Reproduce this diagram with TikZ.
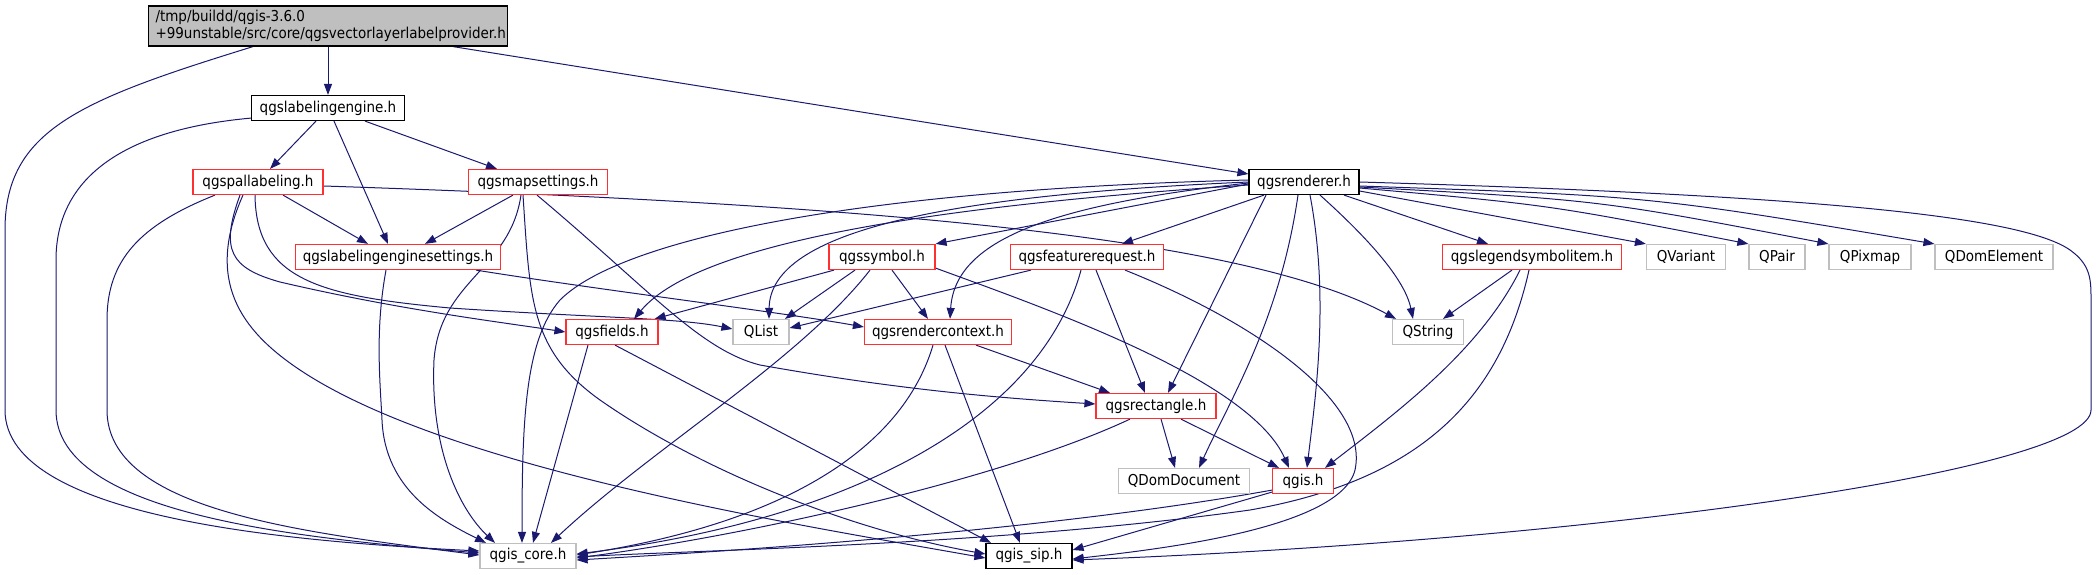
\documentclass[tikz,border=0pt]{standalone}
\usepackage{fontspec}
\setmainfont{DejaVu Sans Condensed}
\usepackage{xcolor}
\usetikzlibrary{arrows.meta,backgrounds}
\definecolor{edgeblue}{HTML}{191970}
\definecolor{extgray}{HTML}{BFBFBF}
\definecolor{truncred}{HTML}{FF3030}

\begin{document}
\begin{tikzpicture}[
  x=1pt, y=-1pt,
  every node/.style={font=\fontsize{15}{16.5}\selectfont, inner sep=0pt, minimum height=25pt},
  hbox/.style={rectangle, draw=black, fill=white, line width=1.2pt},
  redbox/.style={rectangle, draw=truncred, fill=white, line width=1.2pt},
  extbox/.style={rectangle, draw=extgray, fill=white, line width=1.2pt},
  dep/.style={-{Triangle[length=11pt,width=8pt]}, draw=edgeblue, line width=1pt}
]
\useasboundingbox (0,0) rectangle (2098,575);

\node[hbox, fill=extgray, minimum width=359pt, minimum height=40pt, text width=345pt, align=left] (root) at (328,26) {/tmp/buildd/qgis-3.6.0\\+99unstable/src/core/qgsvectorlayerlabelprovider.h};
\node[hbox, minimum width=153pt] (le) at (328,108) {qgslabelingengine.h};
\node[redbox, minimum width=130pt] (pal) at (258,182) {qgspallabeling.h};
\node[redbox, minimum width=139pt] (map) at (538,182) {qgsmapsettings.h};
\node[hbox, minimum width=110pt] (rend) at (1304,182) {qgsrenderer.h};
\node[redbox, minimum width=205pt] (les) at (398,257) {qgslabelingenginesettings.h};
\node[redbox, minimum width=106pt] (sym) at (882,257) {qgssymbol.h};
\node[redbox, minimum width=153pt] (freq) at (1087,257) {qgsfeaturerequest.h};
\node[redbox, minimum width=179pt] (leg) at (1532,257) {qgslegendsymbolitem.h};
\node[extbox, minimum width=79pt] (qvar) at (1686,257) {QVariant};
\node[extbox, minimum width=56pt] (qpair) at (1777,257) {QPair};
\node[extbox, minimum width=82pt] (qpix) at (1870,257) {QPixmap};
\node[extbox, minimum width=118pt] (qdel) at (1994,257) {QDomElement};
\node[redbox, minimum width=92pt] (fields) at (612,332) {qgsfields.h};
\node[extbox, minimum width=56pt] (qlist) at (761,332) {QList};
\node[redbox, minimum width=147pt] (rctx) at (938,332) {qgsrendercontext.h};
\node[extbox, minimum width=71pt] (qstr) at (1428,332) {QString};
\node[redbox, minimum width=120pt] (rect) at (1156,406) {qgsrectangle.h};
\node[extbox, minimum width=131pt] (qdoc) at (1184,481) {QDomDocument};
\node[redbox, minimum width=61pt] (qgis) at (1303,481) {qgis.h};
\node[extbox, minimum width=96pt] (core) at (528,556) {qgis\_core.h};
\node[hbox, minimum width=86pt] (sip) at (1029,556) {qgis\_sip.h};

\begin{scope}[on background layer]
\draw[dep] ([xshift=-75pt]root.south) .. controls (80,100) and (5,130) .. (5,230) -- (5,410) .. controls (5,520) and (300,542) .. ([yshift=5pt]core.west);
\draw[dep] (root) -- (le);
\draw[dep] ([xshift=125pt]root.south) -- ([yshift=8pt]rend.west);

\draw[dep] ([yshift=3pt]le.south west) .. controls (120,130) and (56,180) .. (56,260) -- (56,410) .. controls (56,515) and (300,538) .. ([yshift=3pt]core.west);
\draw[dep] ([xshift=-12pt]le.south) -- ([xshift=12pt]pal.north);
\draw[dep] ([xshift=6pt]le.south) -- ([xshift=-10pt]les.north);
\draw[dep] ([xshift=37pt]le.south) -- ([xshift=-41pt]map.north);

\draw[dep] ([xshift=-43pt]pal.south) .. controls (140,225) and (107,260) .. (107,320) -- (107,410) .. controls (107,510) and (300,532) .. ([yshift=1pt]core.west);
\draw[dep] ([xshift=25pt]pal.south) -- ([xshift=-30pt]les.north);
\draw[dep] ([yshift=-4pt]pal.east) .. controls (900,205) and (1250,240) .. ([xshift=-32pt]qstr.north);
\draw[dep] ([xshift=-18pt]pal.south) .. controls (220,250) and (230,268) .. (280,282) .. controls (400,310) and (500,322) .. (fields.west);
\draw[dep] ([xshift=-3pt]pal.south) .. controls (256,280) and (320,296) .. (450,308) .. controls (600,318) and (680,318) .. ([yshift=3pt]qlist.west);
\draw[dep] ([xshift=-15pt]pal.south) .. controls (205,280) and (240,330) .. (300,370) .. controls (450,470) and (800,525) .. ([yshift=-2pt]sip.west);

\draw[dep] ([xshift=-25pt]map.south) -- ([xshift=27pt]les.north);
\draw[dep] ([xshift=-17pt]map.south) .. controls (510,270) and (440,280) .. (434,360) .. controls (430,450) and (460,510) .. ([xshift=-33pt]core.north);
\draw[dep] ([xshift=-15pt]map.south) .. controls (530,300) and (530,350) .. (600,400) .. controls (700,470) and (850,530) .. ([yshift=2pt]sip.west);
\draw[dep] ([xshift=-1pt]map.south) .. controls (650,290) and (700,350) .. (760,365) .. controls (900,390) and (1000,398) .. ([yshift=2pt]rect.west);

\draw[dep] ([xshift=-12pt]les.south) .. controls (375,330) and (380,380) .. (382,420) .. controls (385,490) and (440,520) .. ([xshift=-42pt]core.north);
\draw[dep] ([xshift=78pt]les.south) .. controls (600,290) and (780,312) .. ([yshift=5pt]rctx.west);

\draw[dep] ([yshift=-2pt]rend.west) -- (sym.north east);
\draw[dep] ([xshift=-40pt]rend.south) -- ([xshift=35pt]freq.north);
\draw[dep] (rend.west) .. controls (950,195) and (770,230) .. ([xshift=8pt]qlist.north);
\draw[dep] ([yshift=-1pt]rend.west) .. controls (1050,205) and (955,240) .. ([xshift=12pt]rctx.north);
\draw[dep] ([yshift=-3pt]rend.west) .. controls (950,205) and (700,240) .. ([xshift=22pt]fields.north);
\draw[dep] ([yshift=2pt]rend.west) .. controls (850,190) and (620,240) .. (560,300) .. controls (525,340) and (522,420) .. ([xshift=-6pt]core.north);
\draw[dep] ([xshift=16pt]rend.south) .. controls (1370,240) and (1405,280) .. ([xshift=-15pt]qstr.north);
\draw[dep] ([xshift=40pt]rend.south) -- ([xshift=-44pt]leg.north);
\draw[dep] ([yshift=-9pt]rend.east) -- (qvar.north west);
\draw[dep] ([yshift=-6pt]rend.east) .. controls (1550,205) .. (qpair.north west);
\draw[dep] ([yshift=-5pt]rend.east) .. controls (1600,200) .. (qpix.north west);
\draw[dep] ([yshift=-4pt]rend.east) .. controls (1650,196) .. (qdel.north west);
\draw[dep] (rend.east) .. controls (1800,195) and (2020,215) .. (2070,250) .. controls (2091,265) and (2091,280) .. (2091,300) -- (2091,410) .. controls (2091,470) and (1600,540) .. ([yshift=-4pt]sip.east);
\draw[dep] ([xshift=-38pt]rend.south) -- ([xshift=12pt]rect.north);
\draw[dep] ([xshift=6pt]rend.south) .. controls (1330,300) and (1315,400) .. ([xshift=4pt]qgis.north);
\draw[dep] ([xshift=-6pt]rend.south) .. controls (1280,320) and (1230,400) .. ([xshift=15pt]qdoc.north);

\draw[dep] ([xshift=-48pt]sym.south) -- ([xshift=-4pt]fields.north east);
\draw[dep] ([xshift=-27pt]sym.south) -- ([xshift=24pt]qlist.north);
\draw[dep] ([xshift=10pt]sym.south) -- ([xshift=-10pt]rctx.north);
\draw[dep] ([yshift=2pt]sym.south east) .. controls (1050,310) and (1250,380) .. ([xshift=-14pt]qgis.north);
\draw[dep] ([xshift=-12pt]sym.south) .. controls (800,360) and (650,450) .. ([xshift=23pt]core.north);

\draw[dep] ([xshift=-56pt]freq.south) -- ([yshift=4pt]qlist.east);
\draw[dep] ([xshift=-6pt]freq.south) .. controls (1040,420) and (850,520) .. ([yshift=2pt]core.east);
\draw[dep] ([xshift=9pt]freq.south) -- ([xshift=-11pt]rect.north);
\draw[dep] ([xshift=38pt]freq.south) .. controls (1250,320) and (1370,400) .. (1355,470) .. controls (1340,530) and (1150,550) .. ([yshift=-3pt]sip.east);

\draw[dep] ([xshift=-20pt]leg.south) -- ([xshift=15pt]qstr.north);
\draw[dep] ([xshift=-12pt]leg.south) .. controls (1480,350) and (1400,410) .. ([xshift=22pt]qgis.north);
\draw[dep] ([xshift=-3pt]leg.south) .. controls (1500,400) and (1420,480) .. (1250,510) .. controls (1000,545) and (700,550) .. ([yshift=-1pt]core.east);

\draw[dep] ([xshift=-24pt]fields.south) -- ([xshift=5pt]core.north);
\draw[dep] ([xshift=3pt]fields.south) -- ([xshift=-38pt]sip.north);

\draw[dep] ([xshift=38pt]rctx.south) -- ([xshift=-46pt]rect.north);
\draw[dep] ([xshift=-5pt]rctx.south) .. controls (905,440) and (800,520) .. ([yshift=1pt]core.east);
\draw[dep] ([xshift=7pt]rctx.south) -- ([xshift=-9pt]sip.north);

\draw[dep] ([xshift=5pt]rect.south) -- ([xshift=-9pt]qdoc.north);
\draw[dep] ([xshift=25pt]rect.south) -- ([xshift=-24pt]qgis.north);
\draw[dep] ([xshift=-26pt]rect.south) .. controls (1000,480) and (750,535) .. ([yshift=-2pt]core.east);

\draw[dep] ([yshift=4pt]qgis.south west) .. controls (1050,530) and (750,550) .. ([yshift=-4pt]core.east);
\draw[dep] ([yshift=2pt]qgis.south west) -- ([yshift=6pt]sip.east);
\end{scope}
\end{tikzpicture}
\end{document}
